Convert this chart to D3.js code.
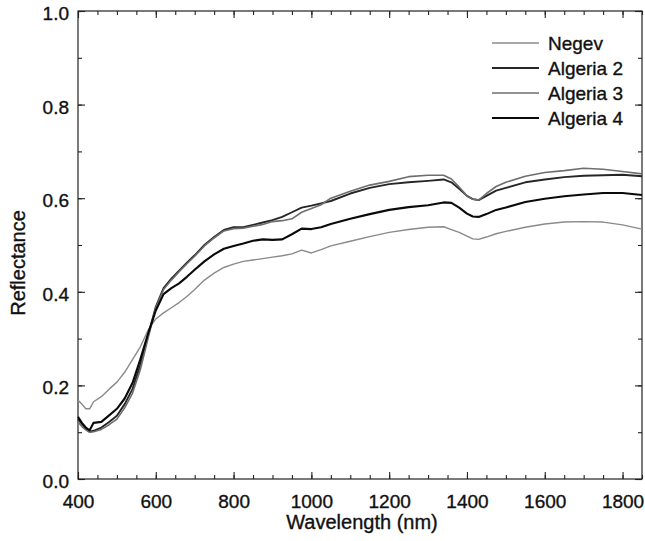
<!DOCTYPE html>
<html>
<head>
<meta charset="utf-8">
<script src="https://cdn.jsdelivr.net/npm/d3@7"></script>
<style>
  body { margin: 0; background: #fff; }
  text { font-family: "Liberation Sans", Arial, Helvetica, sans-serif; fill: #111; stroke: #111; stroke-width: 0.35px; }
</style>
</head>
<body>
<div id="chart"></div>
<script>
'use strict';

// wavelength grid (nm) shared by all spectra
const wavelengths = [400, 410, 420, 430, 440, 460, 480, 500, 520, 540, 560, 580, 600, 620, 640, 660, 680, 700,
  725, 750, 775, 800, 825, 850, 875, 900, 925, 950, 975, 1000, 1025, 1050, 1100, 1150, 1200, 1250, 1300,
  1340, 1360, 1380, 1400, 1415, 1430, 1450, 1475, 1500, 1550, 1600, 1650, 1700, 1750, 1800, 1850]

const negev = [0.168, 0.160, 0.150, 0.150, 0.165, 0.176, 0.192, 0.207, 0.228, 0.255, 0.282, 0.318, 0.342, 0.355, 0.366, 0.377, 0.390, 0.405,
  0.425, 0.440, 0.452, 0.459, 0.465, 0.468, 0.471, 0.474, 0.477, 0.481, 0.489, 0.483, 0.490, 0.498, 0.508, 0.518, 0.527, 0.533, 0.538,
  0.539, 0.533, 0.527, 0.519, 0.513, 0.512, 0.517, 0.524, 0.529, 0.538, 0.545, 0.549, 0.550, 0.549, 0.543, 0.534]

const algeria2 = [0.128, 0.118, 0.108, 0.101, 0.103, 0.110, 0.122, 0.135, 0.160, 0.192, 0.243, 0.306, 0.368, 0.408, 0.428, 0.445, 0.462, 0.478,
  0.500, 0.517, 0.532, 0.538, 0.538, 0.543, 0.548, 0.553, 0.560, 0.570, 0.580, 0.584, 0.589, 0.594, 0.610, 0.622, 0.630, 0.634, 0.637,
  0.640, 0.634, 0.620, 0.605, 0.598, 0.596, 0.605, 0.616, 0.622, 0.634, 0.640, 0.645, 0.648, 0.649, 0.650, 0.647]

const algeria3 = [0.122, 0.112, 0.105, 0.100, 0.101, 0.106, 0.116, 0.128, 0.152, 0.183, 0.233, 0.300, 0.366, 0.405, 0.425, 0.443, 0.460, 0.476,
  0.498, 0.515, 0.530, 0.535, 0.536, 0.540, 0.544, 0.550, 0.552, 0.556, 0.570, 0.578, 0.586, 0.600, 0.615, 0.628, 0.636, 0.646, 0.649,
  0.649, 0.641, 0.624, 0.605, 0.598, 0.596, 0.610, 0.625, 0.634, 0.647, 0.655, 0.659, 0.664, 0.662, 0.657, 0.652]

const algeria4 = [0.133, 0.120, 0.110, 0.104, 0.120, 0.122, 0.136, 0.150, 0.172, 0.205, 0.255, 0.310, 0.360, 0.395, 0.408, 0.418, 0.432, 0.447,
  0.465, 0.480, 0.492, 0.498, 0.503, 0.509, 0.512, 0.511, 0.512, 0.523, 0.535, 0.534, 0.538, 0.545, 0.556, 0.566, 0.575, 0.581, 0.585,
  0.591, 0.590, 0.580, 0.567, 0.561, 0.560, 0.566, 0.575, 0.580, 0.592, 0.599, 0.604, 0.608, 0.611, 0.611, 0.607]

const seriesNames = ['Negev', 'Algeria 2', 'Algeria 3', 'Algeria 4']
const seriesValues = [negev, algeria2, algeria3, algeria4]

const xTicks = [400, 600, 800, 1000, 1200, 1400, 1600, 1800]
const yTicks = [0.0, 0.2, 0.4, 0.6, 0.8, 1.0]

// line look for each spectrum (scan looks grey / black)
const lineColors = ['#8a8a8a', '#262626', '#6e6e6e', '#0a0a0a']
const lineWidths = [1.4, 1.9, 1.6, 2.1]

var svgWidth = 645,
    svgHeight = 541

var margin = { top: 11, right: 3, bottom: 62, left: 78 }
var w = svgWidth - margin.left - margin.right,
    h = svgHeight - margin.top - margin.bottom

var svg = d3.select('#chart').append('svg')
    .attr('width', svgWidth)
    .attr('height', svgHeight)

var g = svg.append('g')
    .attr('transform', 'translate(' + margin.left + ',' + margin.top + ')')

var x = d3.scaleLinear().domain([400, 1850]).range([0, w])
var y = d3.scaleLinear().domain([0, 1]).range([h, 0])

var minorX = d3.range(400, 1851, 50)
var minorY = d3.range(0, 1.001, 0.1)

// ticks point inward on all four sides
function drawAxis(axis, translate, labels) {
  var a = g.append('g')
    .attr('transform', translate)
    .call(axis)
  a.select('.domain').remove()
  a.selectAll('line').attr('stroke', '#222').attr('stroke-width', 1.1)
  if (!labels) a.selectAll('text').remove()
  return a
}

drawAxis(d3.axisBottom(x).tickValues(minorX).tickSize(-4).tickFormat(''), 'translate(0,' + h + ')', false)
drawAxis(d3.axisTop(x).tickValues(minorX).tickSize(-4).tickFormat(''), 'translate(0,0)', false)
drawAxis(d3.axisLeft(y).tickValues(minorY).tickSize(-4).tickFormat(''), 'translate(0,0)', false)
drawAxis(d3.axisRight(y).tickValues(minorY).tickSize(-4).tickFormat(''), 'translate(' + w + ',0)', false)

var xAxis = drawAxis(d3.axisBottom(x).tickValues(xTicks).tickSize(-7).tickFormat(d3.format('d')), 'translate(0,' + h + ')', true)
xAxis.selectAll('text')
    .attr('font-size', 19)
    .attr('dy', 0)
    .attr('y', 29)

var yAxis = drawAxis(d3.axisLeft(y).tickValues(yTicks).tickSize(-7).tickFormat(d3.format('.1f')), 'translate(0,0)', true)
yAxis.selectAll('text')
    .attr('font-size', 19)
    .attr('x', -9)
    .attr('dy', '0.45em')

drawAxis(d3.axisTop(x).tickValues(xTicks).tickSize(-7).tickFormat(''), 'translate(0,0)', false)
drawAxis(d3.axisRight(y).tickValues(yTicks).tickSize(-7).tickFormat(''), 'translate(' + w + ',0)', false)

svg.selectAll('.tick text').style('font-family', '"Liberation Sans", Arial, sans-serif').attr('fill', '#111')

// frame
g.append('rect')
    .attr('width', w)
    .attr('height', h)
    .attr('fill', 'none')
    .attr('stroke', '#222')
    .attr('stroke-width', 1.2)

// spectra
var line = d3.line()
    .x(function(d) { return x(d[0]) })
    .y(function(d) { return y(d[1]) })

seriesValues.forEach(function(vals, i) {
  g.append('path')
    .datum(wavelengths.map(function(wl, j) { return [wl, vals[j]] }))
    .attr('fill', 'none')
    .attr('stroke', lineColors[i])
    .attr('stroke-width', lineWidths[i])
    .attr('stroke-linejoin', 'round')
    .attr('d', line)
})

// legend
var legend = svg.append('g').attr('transform', 'translate(492,43)')
seriesNames.forEach(function(name, i) {
  var row = legend.append('g').attr('transform', 'translate(0,' + (i * 25) + ')')
  row.append('line')
    .attr('x1', 0).attr('x2', 47)
    .attr('stroke', lineColors[i])
    .attr('stroke-width', lineWidths[i])
  row.append('text')
    .attr('x', 56)
    .attr('y', 7)
    .attr('font-size', 19)
    .text(name)
})

// axis titles
svg.append('text')
    .attr('x', margin.left + w / 2 + 2)
    .attr('y', 529)
    .attr('text-anchor', 'middle')
    .attr('font-size', 20)
    .text('Wavelength (nm)')

svg.append('text')
    .attr('transform', 'translate(25,263) rotate(-90)')
    .attr('text-anchor', 'middle')
    .attr('font-size', 20)
    .text('Reflectance')
</script>
</body>
</html>
